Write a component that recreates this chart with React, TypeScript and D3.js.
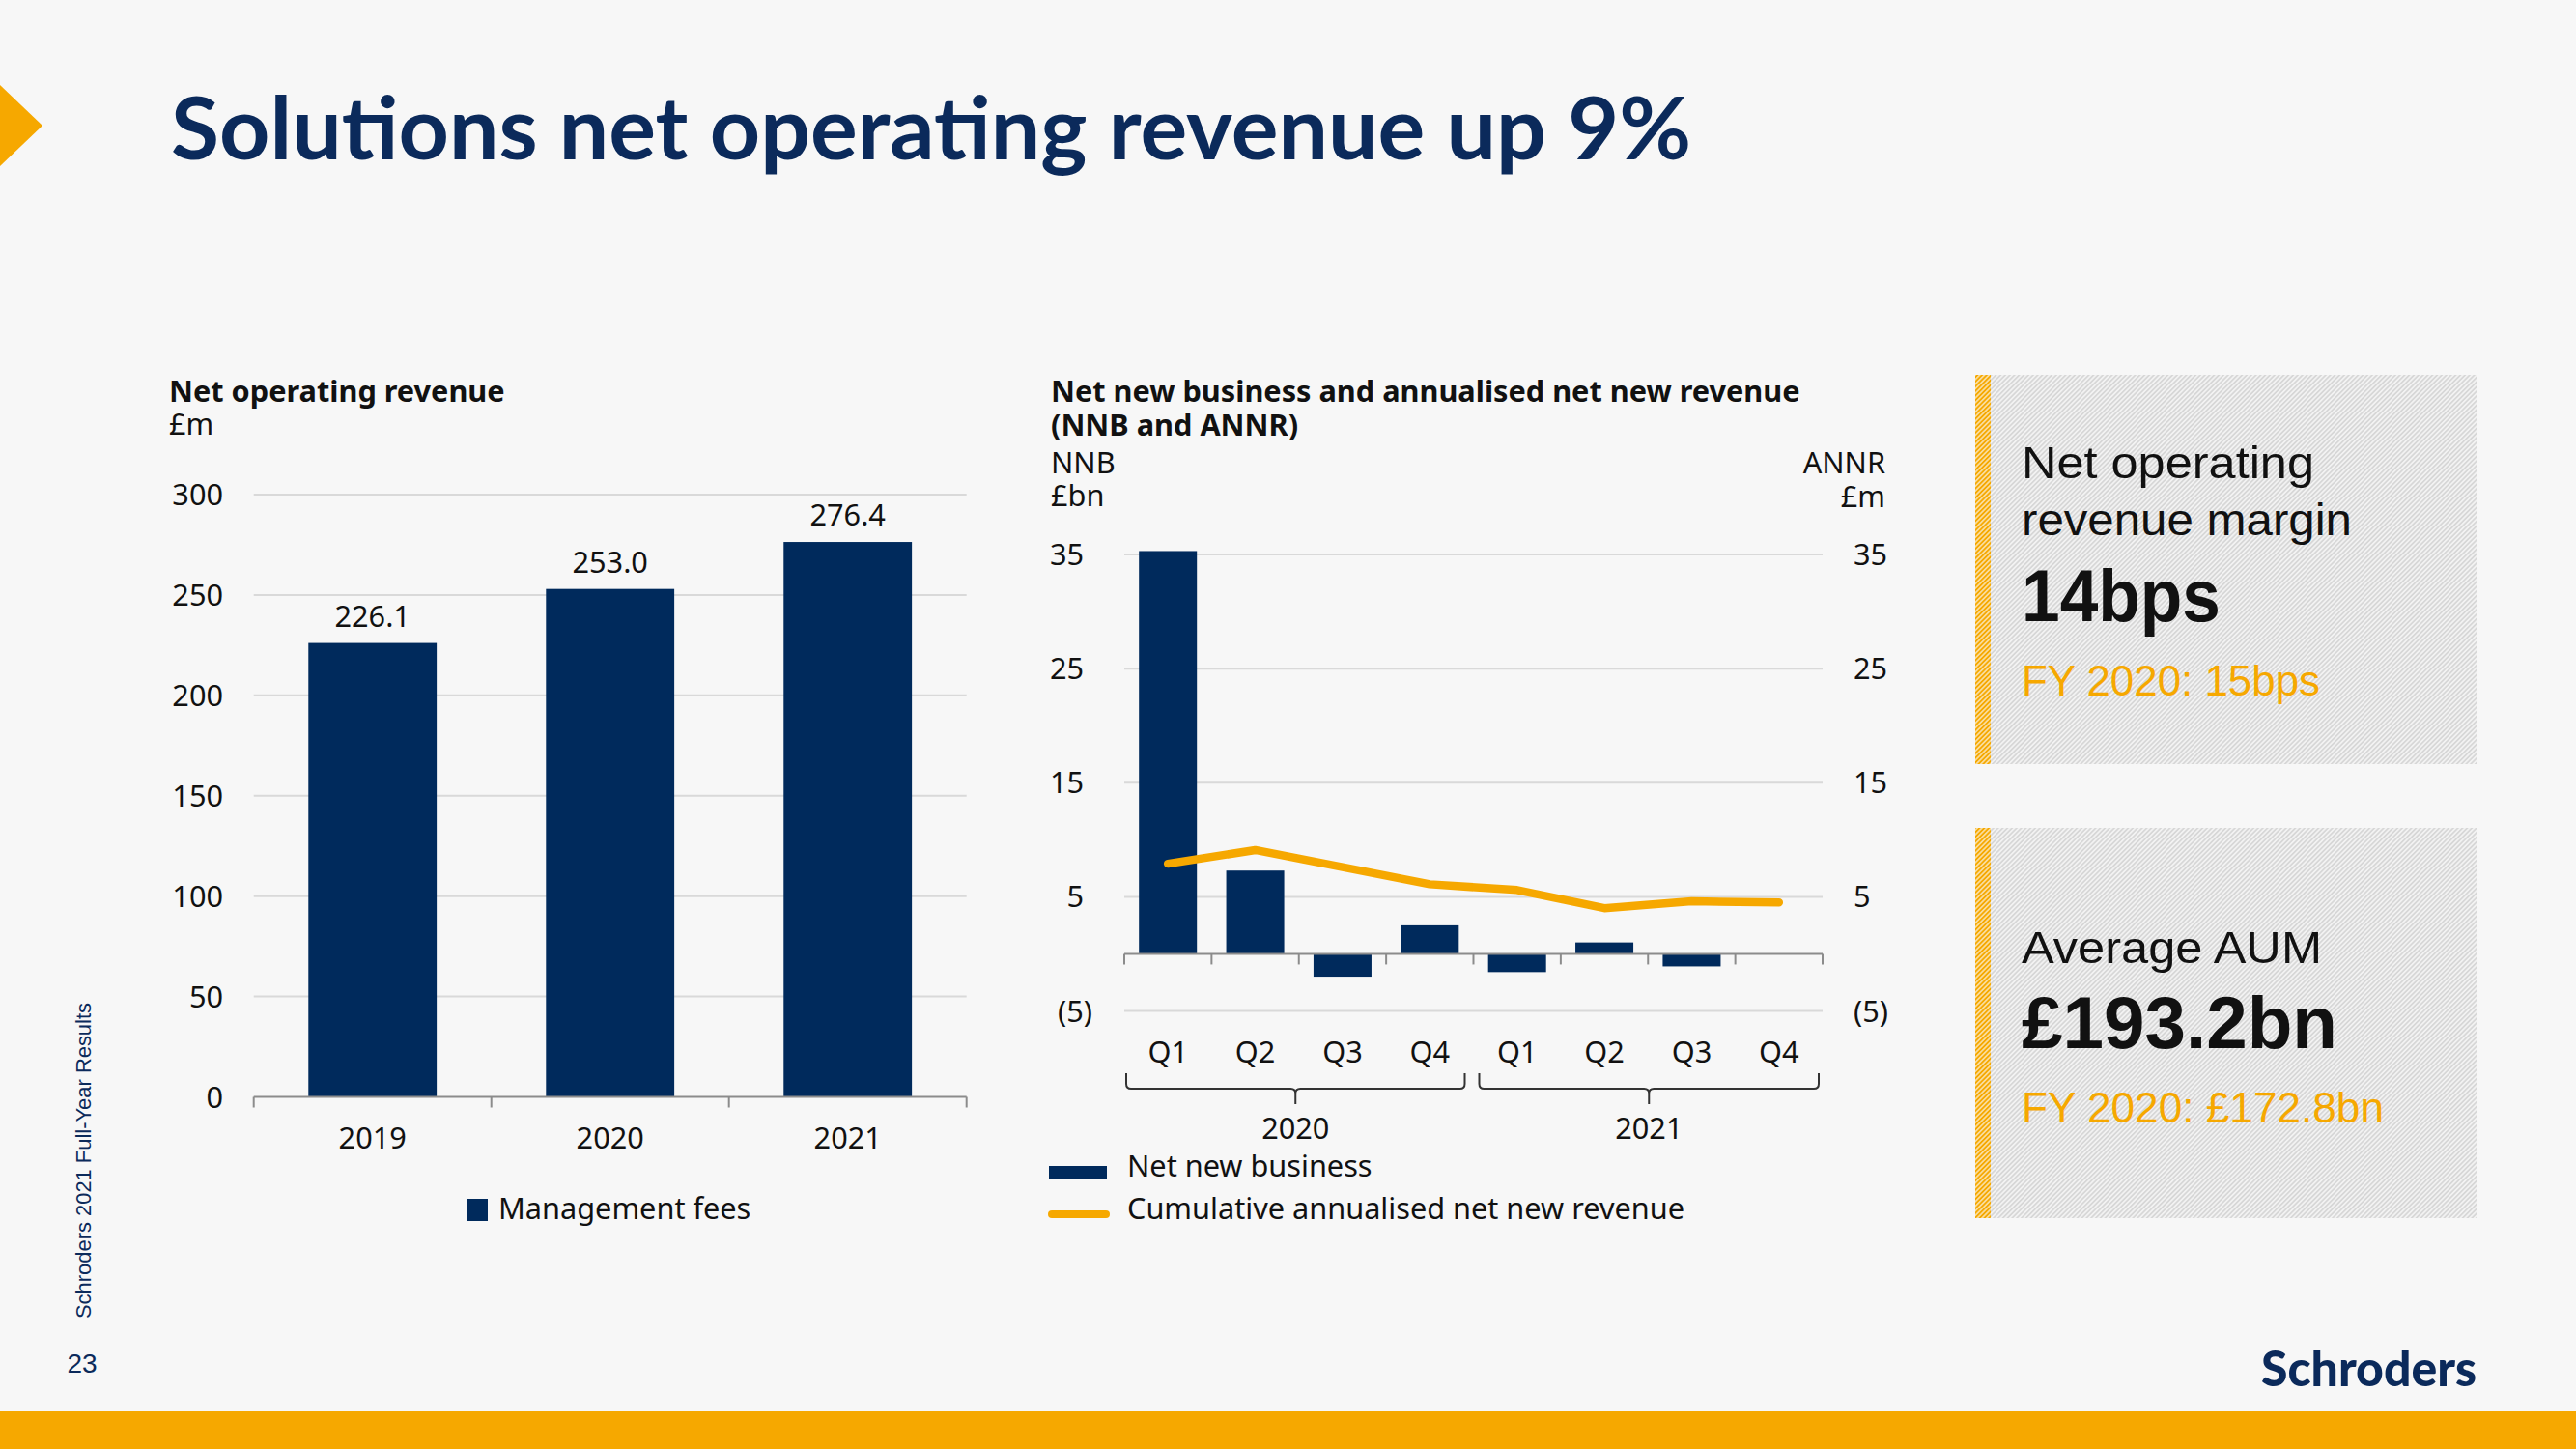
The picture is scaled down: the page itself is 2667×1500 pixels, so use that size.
import React, { useEffect } from 'react';
import * as d3 from 'd3';

const W = 2667;
const H = 1500;

// ---------- data ----------
const revenueYears = ['2019', '2020', '2021'];
const revenueValues = [226.1, 253.0, 276.4];
const revenueTicks = [0, 50, 100, 150, 200, 250, 300];

const quarterLabels = ['Q1', 'Q2', 'Q3', 'Q4', 'Q1', 'Q2', 'Q3', 'Q4'];
const quarterYears = ['2020', '2021'];
const nnbValues = [35.3, 7.3, -2.0, 2.5, -1.6, 1.0, -1.1, 0];
const annrValues = [7.9, 9.1, 7.6, 6.1, 5.6, 4.0, 4.6, 4.5];
const nnbTicks = [35, 25, 15, 5, -5];

const kpiTitles = [['Net operating', 'revenue margin'], ['Average AUM']];
const kpiValues = ['14bps', '£193.2bn'];
const kpiPrior = ['FY 2020: 15bps', 'FY 2020: £172.8bn'];

// ---------- styles ----------
const NAVY = '#002a5c';
const ORANGE = '#f6a800';
const GRID = '#d9d9d9';
const AXIS = '#8c8c8c';
const TXT = '#111111';
const FS = 30.7;
const chartFont = "'Noto Sans', 'Open Sans', sans-serif";
const boxFont = "'Liberation Sans', Arial, sans-serif";

const fmtAcc = (d: number) => (d < 0 ? `(${-d})` : `${d}`);

export default function App() {
  useEffect(() => {
    document.body.style.margin = '0';
    document.body.style.overflow = 'hidden';
  }, []);

  // Left chart scales
  const xL = d3.scaleBand<string>().domain(revenueYears).range([262.7, 1000.7]).paddingInner(0.46).paddingOuter(0.23);
  const yL = d3.scaleLinear().domain([0, 300]).range([1135.5, 512]);

  // Middle chart scales
  const idx = quarterLabels.map((_, i) => String(i));
  const xM = d3.scaleBand<string>().domain(idx).range([1164, 1887]).paddingInner(0.336).paddingOuter(0.168);
  const yM = d3.scaleLinear().domain([-5, 35]).range([1046.5, 574]);
  const stepM = xM.step();
  const x0M = xM.range()[0];

  const annrLine = d3
    .line<number>()
    .x((_, i) => (xM(String(i)) as number) + xM.bandwidth() / 2)
    .y((d) => yM(d));

  const stepL = xL.step();
  const x0L = xL.range()[0];

  const bracketY0 = 1111;
  const bracketY1 = 1127;
  const bracketTip = 1143;

  const boxes = [
    { y: 388, h: 403 },
    { y: 857, h: 404 },
  ];

  return (
    <svg
      width={W}
      height={H}
      viewBox={`0 0 ${W} ${H}`}
      style={{ position: 'absolute', left: 0, top: 0, display: 'block' }}
    >
      <defs>
        <pattern id="hatchGray" width="3.4" height="3.4" patternUnits="userSpaceOnUse" patternTransform="rotate(45)">
          <rect width="3.4" height="3.4" fill="#f2f2f2" />
          <line x1="1.7" y1="0" x2="1.7" y2="3.4" stroke="#cfcfcf" strokeWidth="1.3" />
        </pattern>
        <pattern id="hatchOrange" width="3.4" height="3.4" patternUnits="userSpaceOnUse" patternTransform="rotate(45)">
          <rect width="3.4" height="3.4" fill="#fbeccb" />
          <line x1="1.7" y1="0" x2="1.7" y2="3.4" stroke="#f5a800" strokeWidth="2.1" />
        </pattern>
      </defs>

      {/* background */}
      <rect x={0} y={0} width={W} height={H} fill="#f7f7f7" />
      <rect x={0} y={1461} width={W} height={H - 1461} fill={ORANGE} />
      <polygon points="0,88 44,130 0,172" fill={ORANGE} />

      {/* page title */}
      <text
        x={177}
        y={165}
        fontFamily="Lato, 'Noto Sans', sans-serif"
        fontWeight={700}
        fontSize={90}
        fill="#0b2a5b"
        textLength={1574}
        lengthAdjust="spacingAndGlyphs"
      >
        Solutions net operating revenue up 9%
      </text>

      {/* footer */}
      <text
        transform="translate(94,1365) rotate(-90)"
        fontFamily={boxFont}
        fontSize={22}
        fill="#0b2a5b"
        textLength={327}
        lengthAdjust="spacingAndGlyphs"
      >
        Schroders 2021 Full-Year Results
      </text>
      <text x={85} y={1421} textAnchor="middle" fontFamily={boxFont} fontSize={28} fill="#0b2a5b">
        23
      </text>
      <text
        x={2341}
        y={1435}
        fontFamily="Lato, 'Noto Sans', sans-serif"
        fontWeight={900}
        fontSize={52}
        fill="#0b2a5b"
        textLength={223}
        lengthAdjust="spacingAndGlyphs"
      >
        Schroders
      </text>

      {/* ================= LEFT CHART ================= */}
      <g fontFamily={chartFont} fill={TXT}>
        <text x={175} y={416} fontWeight={700} fontSize={FS}>
          Net operating revenue
        </text>
        <text x={175} y={450} fontSize={FS}>
          £m
        </text>
        {revenueTicks.map((t) =>
          t === 0 ? null : (
            <line key={'gl' + t} x1={x0L} x2={xL.range()[1]} y1={yL(t)} y2={yL(t)} stroke={GRID} strokeWidth={2} />
          )
        )}
        {revenueTicks.map((t) => (
          <text key={'tl' + t} x={231} y={yL(t)} dy="0.36em" textAnchor="end" fontSize={FS}>
            {t}
          </text>
        ))}
        {revenueValues.map((v, i) => (
          <rect
            key={'b' + i}
            x={xL(revenueYears[i])}
            y={yL(v)}
            width={xL.bandwidth()}
            height={yL(0) - yL(v)}
            fill={NAVY}
          />
        ))}
        {revenueValues.map((v, i) => (
          <text
            key={'bl' + i}
            x={(xL(revenueYears[i]) as number) + xL.bandwidth() / 2}
            y={yL(v) - 17}
            textAnchor="middle"
            fontSize={FS}
          >
            {v.toFixed(1)}
          </text>
        ))}
        <line x1={x0L} x2={xL.range()[1]} y1={yL(0)} y2={yL(0)} stroke={AXIS} strokeWidth={2} />
        {d3.range(revenueYears.length + 1).map((i) => (
          <line
            key={'tk' + i}
            x1={x0L + i * stepL}
            x2={x0L + i * stepL}
            y1={yL(0)}
            y2={yL(0) + 11}
            stroke={AXIS}
            strokeWidth={2}
          />
        ))}
        {revenueYears.map((yr) => (
          <text key={'xl' + yr} x={(xL(yr) as number) + xL.bandwidth() / 2} y={1189} textAnchor="middle" fontSize={FS}>
            {yr}
          </text>
        ))}
        <rect x={483} y={1241} width={22} height={23} fill={NAVY} />
        <text x={516} y={1262} fontSize={FS}>
          Management fees
        </text>
      </g>

      {/* ================= MIDDLE CHART ================= */}
      <g fontFamily={chartFont} fill={TXT}>
        <text x={1088} y={416} fontWeight={700} fontSize={FS}>
          Net new business and annualised net new revenue
        </text>
        <text x={1088} y={450.7} fontWeight={700} fontSize={FS}>
          (NNB and ANNR)
        </text>
        <text x={1088} y={490} fontSize={FS}>
          NNB
        </text>
        <text x={1088} y={524} fontSize={FS}>
          £bn
        </text>
        <text x={1952} y={490} fontSize={FS} textAnchor="end">
          ANNR
        </text>
        <text x={1952} y={525} fontSize={FS} textAnchor="end">
          £m
        </text>

        {nnbTicks.map((t) => (
          <line key={'mg' + t} x1={x0M} x2={xM.range()[1]} y1={yM(t)} y2={yM(t)} stroke={GRID} strokeWidth={2} />
        ))}
        {nnbTicks.map((t) => (
          <text key={'ml' + t} x={1131} dx={t < 0 ? 0 : -9} y={yM(t)} dy="0.36em" textAnchor="end" fontSize={FS}>
            {fmtAcc(t)}
          </text>
        ))}
        {nnbTicks.map((t) => (
          <text key={'mr' + t} x={1919} y={yM(t)} dy="0.36em" textAnchor="start" fontSize={FS}>
            {fmtAcc(t)}
          </text>
        ))}

        {nnbValues.map((v, i) =>
          v === 0 ? null : (
            <rect
              key={'mb' + i}
              x={xM(String(i))}
              y={Math.min(yM(v), yM(0))}
              width={xM.bandwidth()}
              height={Math.abs(yM(v) - yM(0))}
              fill={NAVY}
            />
          )
        )}

        <line x1={x0M} x2={xM.range()[1]} y1={yM(0)} y2={yM(0)} stroke={AXIS} strokeWidth={2} />
        {d3.range(quarterLabels.length + 1).map((i) => (
          <line
            key={'mt' + i}
            x1={x0M + i * stepM}
            x2={x0M + i * stepM}
            y1={yM(0)}
            y2={yM(0) + 11}
            stroke={AXIS}
            strokeWidth={2}
          />
        ))}

        <path
          d={annrLine(annrValues) || ''}
          fill="none"
          stroke={ORANGE}
          strokeWidth={8.5}
          strokeLinecap="round"
          strokeLinejoin="round"
        />

        {quarterLabels.map((q, i) => (
          <text key={'q' + i} x={(xM(String(i)) as number) + xM.bandwidth() / 2} y={1100} textAnchor="middle" fontSize={FS}>
            {q}
          </text>
        ))}

        {quarterYears.map((yr, g) => {
          const a = x0M + g * 4 * stepM + (g === 0 ? 2 : 6);
          const b = x0M + (g + 1) * 4 * stepM - (g === 0 ? 9 : 4);
          const c = (a + b) / 2;
          const r = 5;
          const d = `M${a},${bracketY0} V${bracketY1 - r} Q${a},${bracketY1} ${a + r},${bracketY1} H${c - r} Q${c},${bracketY1} ${c},${bracketY1 + r} V${bracketTip} M${c},${bracketY1 + r} Q${c},${bracketY1} ${c + r},${bracketY1} H${b - r} Q${b},${bracketY1} ${b},${bracketY1 - r} V${bracketY0}`;
          return (
            <g key={'br' + yr}>
              <path d={d} fill="none" stroke="#333" strokeWidth={2} />
              <text x={c} y={1179} textAnchor="middle" fontSize={FS}>
                {yr}
              </text>
            </g>
          );
        })}

        <rect x={1086} y={1207} width={60} height={14} fill={NAVY} />
        <text x={1167} y={1218} fontSize={FS}>
          Net new business
        </text>
        <line x1={1089} x2={1145} y1={1257} y2={1257} stroke={ORANGE} strokeWidth={8} strokeLinecap="round" />
        <text x={1167} y={1262} fontSize={FS}>
          Cumulative annualised net new revenue
        </text>
      </g>

      {/* ================= KPI BOXES ================= */}
      {boxes.map((bx, i) => (
        <g key={'box' + i}>
          <rect x={2045} y={bx.y} width={520} height={bx.h} fill="url(#hatchGray)" />
          <rect x={2045} y={bx.y} width={16} height={bx.h} fill="url(#hatchOrange)" />
        </g>
      ))}
      <g fontFamily={boxFont}>
        <text x={2093} y={495} fontSize={46} fill={TXT} textLength={303} lengthAdjust="spacingAndGlyphs">
          {kpiTitles[0][0]}
        </text>
        <text x={2093} y={554} fontSize={46} fill={TXT} textLength={342} lengthAdjust="spacingAndGlyphs">
          {kpiTitles[0][1]}
        </text>
        <text x={2093} y={643} fontSize={76} fontWeight={700} fill={TXT} textLength={206} lengthAdjust="spacingAndGlyphs">
          {kpiValues[0]}
        </text>
        <text x={2093} y={720} fontSize={44} fill={ORANGE} textLength={309} lengthAdjust="spacingAndGlyphs">
          {kpiPrior[0]}
        </text>

        <text x={2093} y={997} fontSize={46} fill={TXT} textLength={311} lengthAdjust="spacingAndGlyphs">
          {kpiTitles[1][0]}
        </text>
        <text x={2093} y={1085} fontSize={76} fontWeight={700} fill={TXT} textLength={327} lengthAdjust="spacingAndGlyphs">
          {kpiValues[1]}
        </text>
        <text x={2093} y={1162} fontSize={44} fill={ORANGE} textLength={375} lengthAdjust="spacingAndGlyphs">
          {kpiPrior[1]}
        </text>
      </g>
    </svg>
  );
}
